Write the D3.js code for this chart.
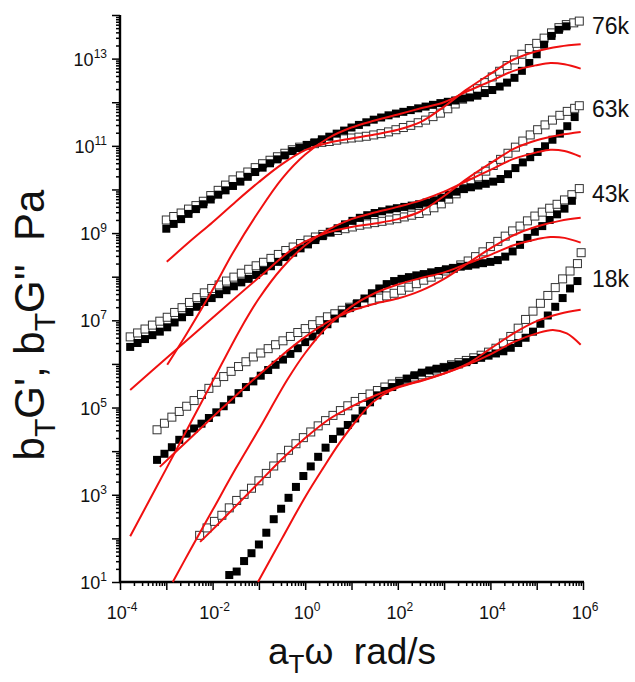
<!DOCTYPE html>
<html>
<head>
<meta charset="utf-8">
<script src="https://cdn.jsdelivr.net/npm/d3@7"></script>
<style>
  body { margin: 0; background: #fff; }
  svg { display: block; font-family: "Liberation Sans", Arial, sans-serif; }
</style>
</head>
<body>
<div id="chart"></div>
<script>
// all values are log10 : x = log10(aT·ω / rad s-1), y = log10(bT·G / Pa)

// ---- 76k ----
const w76 = [-3.00,-2.84,-2.68,-2.52,-2.36,-2.20,-2.04,-1.88,-1.72,-1.56,-1.40,-1.24,-1.08,-0.92,-0.76,-0.60,-0.44,-0.28,-0.12,0.04,0.20,0.36,0.52,0.68,0.84,1.00,1.16,1.32,1.48,1.64,1.80,1.96,2.12,2.28,2.44,2.60,2.76,2.92,3.08,3.24,3.40,3.56,3.72,3.88,4.04,4.20,4.36,4.52,4.68,4.84,5.00,5.16,5.32,5.48,5.64,5.80,5.92];
const gpp76 = [9.30,9.38,9.46,9.55,9.63,9.73,9.86,9.98,10.10,10.22,10.31,10.40,10.50,10.59,10.67,10.75,10.83,10.91,10.97,11.01,11.05,11.08,11.10,11.13,11.16,11.18,11.20,11.22,11.25,11.28,11.32,11.37,11.42,11.47,11.53,11.59,11.67,11.75,11.85,11.96,12.07,12.19,12.31,12.45,12.58,12.71,12.84,12.97,13.10,13.23,13.35,13.47,13.59,13.71,13.78,13.82,13.86];
const gp76 = [9.10,9.21,9.32,9.44,9.55,9.66,9.77,9.88,9.98,10.08,10.18,10.29,10.40,10.50,10.60,10.69,10.78,10.88,10.95,11.02,11.08,11.15,11.21,11.28,11.35,11.42,11.48,11.54,11.60,11.65,11.70,11.74,11.78,11.82,11.86,11.90,11.94,11.98,12.01,12.04,12.08,12.11,12.15,12.21,12.28,12.36,12.45,12.56,12.72,12.90,13.10,13.32,13.52,13.66,13.74,null,null];
const fitGp76 = [[-2.98,5.98],[-2.55,6.71],[-2.0,7.70],[-1.56,8.55],[-1.0,9.50],[-0.5,10.25],[0.0,10.80],[0.5,11.18],[1.0,11.42],[1.5,11.58],[2.0,11.72],[2.5,11.86],[3.0,12.0],[3.5,12.25],[4.0,12.48],[4.5,12.72],[5.0,12.85],[5.3,12.90],[5.6,12.87],[5.95,12.77]];
const fitGpp76 = [[-2.99,8.34],[-2.5,8.80],[-2.0,9.25],[-1.5,9.72],[-1.0,10.17],[-0.5,10.58],[0.0,10.90],[0.5,11.07],[1.0,11.17],[1.5,11.26],[2.0,11.37],[2.5,11.55],[3.0,11.90],[3.5,12.30],[4.0,12.65],[4.5,12.98],[5.0,13.17],[5.5,13.28],[5.95,13.33]];

// ---- 63k ----
const w63 = [-3.78,-3.62,-3.46,-3.30,-3.14,-2.98,-2.82,-2.66,-2.50,-2.34,-2.18,-2.02,-1.86,-1.70,-1.54,-1.38,-1.22,-1.06,-0.90,-0.74,-0.58,-0.42,-0.26,-0.10,0.06,0.22,0.38,0.54,0.70,0.86,1.02,1.18,1.34,1.50,1.66,1.82,1.98,2.14,2.30,2.46,2.62,2.78,2.94,3.10,3.26,3.42,3.58,3.74,3.90,4.06,4.22,4.38,4.54,4.70,4.86,5.02,5.18,5.34,5.50,5.66,5.82,5.92];
const gpp63 = [6.62,6.71,6.80,6.89,6.98,7.07,7.18,7.29,7.41,7.52,7.63,7.73,7.81,7.90,7.99,8.08,8.17,8.25,8.33,8.42,8.51,8.60,8.68,8.76,8.84,8.91,8.97,9.02,9.06,9.10,9.14,9.18,9.21,9.24,9.27,9.30,9.33,9.37,9.41,9.45,9.51,9.58,9.67,9.78,9.90,10.02,10.15,10.29,10.42,10.55,10.69,10.83,10.97,11.11,11.25,11.37,11.48,11.59,11.70,11.79,11.86,11.92];
const gp63 = [6.39,6.48,6.57,6.66,6.74,6.84,6.95,7.07,7.19,7.31,7.42,7.51,7.60,7.69,7.78,7.87,7.95,8.04,8.14,8.24,8.34,8.45,8.55,8.65,8.74,8.84,8.93,9.02,9.11,9.20,9.28,9.35,9.41,9.46,9.50,9.54,9.57,9.60,9.63,9.66,9.70,9.75,9.81,9.88,9.95,10.01,10.05,10.09,10.13,10.18,10.24,10.35,10.49,10.62,10.74,10.86,10.99,11.14,11.28,11.45,11.66,null];
const fitGp63 = [[-3.78,2.05],[-3.0,3.60],[-2.5,4.60],[-2.0,5.60],[-1.41,6.78],[-1.0,7.50],[-0.5,8.20],[0.0,8.72],[0.5,9.08],[1.0,9.32],[1.5,9.47],[2.0,9.60],[2.5,9.75],[3.0,9.95],[3.5,10.20],[4.0,10.45],[4.5,10.70],[5.0,10.85],[5.3,10.91],[5.6,10.88],[5.95,10.75]];
const fitGpp63 = [[-3.78,5.40],[-3.0,6.13],[-2.0,7.06],[-1.0,7.98],[-0.18,8.70],[0.5,9.02],[1.0,9.14],[1.5,9.22],[2.0,9.32],[2.5,9.50],[3.0,9.85],[3.5,10.25],[4.0,10.60],[4.5,10.93],[5.0,11.13],[5.5,11.25],[5.95,11.32]];

// ---- 43k ----
const w43 = [-3.20,-3.04,-2.88,-2.72,-2.56,-2.40,-2.24,-2.08,-1.92,-1.76,-1.60,-1.44,-1.28,-1.12,-0.96,-0.80,-0.64,-0.48,-0.32,-0.16,0.00,0.16,0.32,0.48,0.64,0.80,0.96,1.12,1.28,1.44,1.60,1.76,1.92,2.08,2.24,2.40,2.56,2.72,2.88,3.04,3.20,3.36,3.52,3.68,3.84,4.00,4.16,4.32,4.48,4.64,4.80,4.96,5.12,5.28,5.44,5.60,5.76,5.92];
const gpp43 = [4.49,4.64,4.78,4.91,5.03,5.16,5.30,5.44,5.58,5.71,5.83,5.94,6.05,6.16,6.25,6.35,6.44,6.53,6.63,6.72,6.81,6.90,6.99,7.08,7.15,7.23,7.30,7.36,7.41,7.46,7.51,7.56,7.62,7.69,7.76,7.84,7.92,7.99,8.06,8.13,8.19,8.27,8.36,8.46,8.57,8.69,8.81,8.93,9.05,9.16,9.28,9.39,9.48,9.57,9.66,9.76,9.88,10.02];
const gp43 = [3.80,3.94,4.09,4.26,4.40,4.52,4.63,4.76,4.89,5.03,5.18,5.33,5.47,5.60,5.73,5.86,5.98,6.10,6.23,6.36,6.50,6.63,6.77,6.91,7.04,7.16,7.28,7.39,7.50,7.62,7.73,7.83,7.90,7.95,7.99,8.03,8.06,8.10,8.13,8.17,8.20,8.23,8.25,8.28,8.31,8.34,8.38,8.46,8.58,8.73,8.89,9.03,9.16,9.30,9.43,9.56,9.74,null];
const fitGp43 = [[-2.86,1.0],[-2.5,1.70],[-2.0,2.65],[-1.5,3.60],[-1.0,4.50],[-0.39,5.63],[0.0,6.25],[0.5,6.88],[1.0,7.32],[1.5,7.62],[2.0,7.82],[2.5,7.97],[3.0,8.10],[3.5,8.30],[4.0,8.50],[4.5,8.72],[5.0,8.86],[5.3,8.91],[5.6,8.89],[5.95,8.78]];
const fitGpp43 = [[-3.14,3.64],[-2.5,4.28],[-2.0,4.78],[-1.5,5.27],[-1.13,5.63],[-0.5,6.20],[0.0,6.62],[0.5,6.97],[1.0,7.22],[1.5,7.38],[2.0,7.50],[2.5,7.68],[3.0,7.95],[3.5,8.30],[4.0,8.65],[4.5,8.95],[5.0,9.15],[5.5,9.28],[5.95,9.35]];

// ---- 18k ----
const w18 = [-2.28,-2.12,-1.96,-1.80,-1.64,-1.48,-1.32,-1.16,-1.00,-0.84,-0.68,-0.52,-0.36,-0.20,-0.04,0.12,0.28,0.44,0.60,0.76,0.92,1.08,1.24,1.40,1.56,1.72,1.88,2.04,2.20,2.36,2.52,2.68,2.84,3.00,3.16,3.32,3.48,3.64,3.80,3.96,4.12,4.28,4.44,4.60,4.76,4.92,5.08,5.24,5.40,5.56,5.72,5.88,5.96];
const gpp18 = [2.07,2.24,2.39,2.53,2.70,2.87,3.01,3.15,3.32,3.49,3.66,3.85,4.02,4.17,4.31,4.44,4.58,4.70,4.82,4.93,5.04,5.14,5.23,5.31,5.39,5.47,5.54,5.60,5.65,5.70,5.75,5.80,5.86,5.92,5.98,6.03,6.08,6.14,6.20,6.27,6.36,6.48,6.63,6.82,7.02,7.21,7.39,7.57,7.75,7.95,8.13,8.30,8.55];
const gp18 = [null,null,null,null,1.16,1.24,1.48,1.66,1.86,2.13,2.44,2.68,2.93,3.18,3.43,3.65,3.87,4.08,4.28,4.45,4.60,4.75,4.93,5.12,5.28,5.38,5.47,5.57,5.66,5.74,5.80,5.85,5.89,5.92,5.96,5.99,6.04,6.09,6.14,6.19,6.24,6.29,6.37,6.48,6.60,6.74,6.92,7.11,7.31,7.51,7.73,7.90,null];
const fitGp18 = [[-1.02,1.0],[-0.5,2.0],[0.0,2.95],[0.38,3.60],[0.75,4.20],[1.12,4.72],[1.46,5.12],[1.83,5.38],[2.2,5.52],[2.54,5.62],[3.0,5.78],[3.5,5.98],[4.0,6.22],[4.5,6.50],[5.0,6.70],[5.35,6.78],[5.65,6.70],[5.95,6.44]];
const fitGpp18 = [[-2.27,1.92],[-2.0,2.20],[-1.5,2.74],[-1.0,3.28],[-0.5,3.82],[0.0,4.30],[0.5,4.72],[1.0,5.02],[1.5,5.27],[2.0,5.47],[2.5,5.62],[3.0,5.78],[3.5,6.00],[4.0,6.35],[4.5,6.70],[5.0,6.98],[5.5,7.15],[5.95,7.24]];

const setNames = ["76k", "63k", "43k", "18k"];
const labelY = [1e13*5.5, 1e11*7, 1e9*8, 1e7*9]; // where the "k" labels sit

const xMajor = [-4,-3,-2,-1,0,1,2,3,4,5,6];
const xLabelled = [-4,-2,0,2,4,6];
const yMajor = [1,2,3,4,5,6,7,8,9,10,11,12,13,14];
const yLabelled = [1,3,5,7,9,11,13];

const sets = [
  {name: setNames[0], w: w76, gpp: gpp76, gp: gp76, fits: [fitGp76, fitGpp76]},
  {name: setNames[1], w: w63, gpp: gpp63, gp: gp63, fits: [fitGp63, fitGpp63]},
  {name: setNames[2], w: w43, gpp: gpp43, gp: gp43, fits: [fitGp43, fitGpp43]},
  {name: setNames[3], w: w18, gpp: gpp18, gp: gp18, fits: [fitGp18, fitGpp18]}
];

const W = 635, H = 682;
const svg = d3.select("#chart").append("svg").attr("width", W).attr("height", H);

const x = d3.scaleLog().domain([1e-4, 1e6]).range([120, 583]);
const y = d3.scaleLog().domain([1e1, 1e14]).range([582, 15]);
const p10 = v => Math.pow(10, v);

// minor tick values 2..9 per decade
function minors(lo, hi){
  let out = [];
  for(let d = lo; d < hi; d++){
    for(let k = 2; k <= 9; k++) out.push(k * p10(d));
  }
  return out;
}

// ---- axes ----
let gx = svg.append("g").attr("transform", "translate(0,582)");
gx.call(d3.axisBottom(x).tickValues(minors(-4, 6)).tickSize(4).tickFormat(""));
gx.append("g").call(d3.axisBottom(x).tickValues(xMajor.map(p10)).tickSize(8).tickFormat(""));
gx.selectAll(".domain").remove();
gx.selectAll("line").attr("stroke", "#000").attr("stroke-width", 1.5);
svg.append("line").attr("x1", 119).attr("x2", x(1e6) + 1).attr("y1", 582).attr("y2", 582)
  .attr("stroke", "#000").attr("stroke-width", 2.4);

let gy = svg.append("g").attr("transform", "translate(120,0)");
gy.call(d3.axisLeft(y).tickValues(minors(1, 14)).tickSize(4).tickFormat(""));
gy.append("g").call(d3.axisLeft(y).tickValues(yMajor.map(p10)).tickSize(8).tickFormat(""));
gy.selectAll(".domain").remove();
gy.selectAll("line").attr("stroke", "#000").attr("stroke-width", 1.5);
svg.append("line").attr("x1", 120).attr("x2", 120).attr("y1", y(1e14)).attr("y2", 583)
  .attr("stroke", "#000").attr("stroke-width", 2.4);

// tick labels with superscript exponents
xLabelled.forEach(function(e){
  let t = svg.append("text").attr("x", x(p10(e)) + 2).attr("y", 619)
    .attr("text-anchor", "middle").style("font-size", "18px").attr("fill", "#111");
  t.append("tspan").text("10");
  t.append("tspan").attr("dy", -8).style("font-size", "12px").text(e < 0 ? "-" + (-e) : e);
});
yLabelled.forEach(function(e){
  let t = svg.append("text").attr("x", 107).attr("y", y(p10(e)) + 7)
    .attr("text-anchor", "end").style("font-size", "18px").attr("fill", "#111");
  t.append("tspan").text("10");
  t.append("tspan").attr("dy", -8).style("font-size", "12px").text(e);
});

// ---- data markers ----
const S = 8;
sets.forEach(function(s){
  let open = s.w.map((v, i) => ({w: v, g: s.gpp[i]})).filter(d => d.g != null);
  let full = s.w.map((v, i) => ({w: v, g: s.gp[i]})).filter(d => d.g != null);
  svg.append("g").selectAll("rect").data(open).join("rect")
    .attr("x", d => x(p10(d.w)) - S/2).attr("y", d => y(p10(d.g)) - S/2)
    .attr("width", S).attr("height", S)
    .attr("fill", "#fff").attr("stroke", "#333").attr("stroke-width", 1);
  svg.append("g").selectAll("rect").data(full).join("rect")
    .attr("x", d => x(p10(d.w)) - S/2).attr("y", d => y(p10(d.g)) - S/2)
    .attr("width", S).attr("height", S).attr("fill", "#000");
});

// ---- model fits ----
const line = d3.line()
  .x(d => x(p10(d[0])))
  .y(d => y(p10(d[1])))
  .curve(d3.curveCatmullRom);
sets.forEach(function(s){
  s.fits.forEach(function(f){
    svg.append("path").attr("d", line(f)).attr("fill", "none")
      .attr("stroke", "#f01010").attr("stroke-width", 2);
  });
});

// ---- set labels ----
sets.forEach(function(s, i){
  svg.append("text").attr("x", 592).attr("y", y(labelY[i]) + 8)
    .style("font-size", "23px").attr("fill", "#111").text(s.name);
});

// ---- axis titles ----
let xt = svg.append("text").attr("x", 352).attr("y", 664)
  .attr("text-anchor", "middle").style("font-size", "37px").attr("fill", "#111");
xt.append("tspan").text("a");
xt.append("tspan").attr("dy", 9).style("font-size", "26px").text("T");
xt.append("tspan").attr("dy", -9).text("\u03C9\u00A0\u00A0rad/s");

let yt = svg.append("text").attr("transform", "translate(44,325) rotate(-90)")
  .attr("text-anchor", "middle").style("font-size", "42px").attr("fill", "#111");
yt.append("tspan").text("b");
yt.append("tspan").attr("dy", 11).style("font-size", "30px").text("T");
yt.append("tspan").attr("dy", -11).text("G', b");
yt.append("tspan").attr("dy", 11).style("font-size", "30px").text("T");
yt.append("tspan").attr("dy", -11).text("G''\u00A0\u00A0Pa");
</script>
</body>
</html>
